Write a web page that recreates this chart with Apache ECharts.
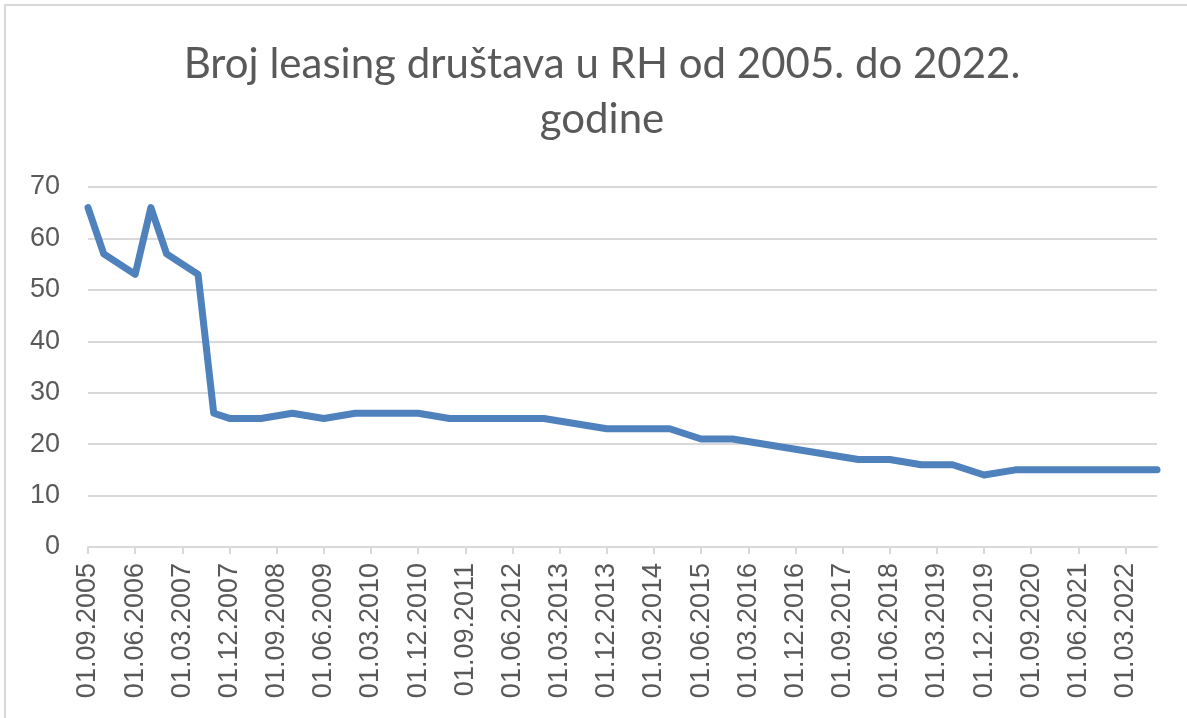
<!DOCTYPE html>
<html>
<head>
<meta charset="utf-8">
<script src="https://cdn.jsdelivr.net/npm/echarts@6/dist/echarts.min.js"></script>
<style>
  html, body { margin: 0; padding: 0; background: #fff; }
  #chart { width: 1187px; height: 718px; }
</style>
</head>
<body>
<div id="chart"></div>
<script>
/* 数据：季度日期 */
var dates = [
  '01.09.2005', '01.12.2005',
  '01.03.2006', '01.06.2006', '01.09.2006', '01.12.2006',
  '01.03.2007', '01.06.2007', '01.09.2007', '01.12.2007',
  '01.03.2008', '01.06.2008', '01.09.2008', '01.12.2008',
  '01.03.2009', '01.06.2009', '01.09.2009', '01.12.2009',
  '01.03.2010', '01.06.2010', '01.09.2010', '01.12.2010',
  '01.03.2011', '01.06.2011', '01.09.2011', '01.12.2011',
  '01.03.2012', '01.06.2012', '01.09.2012', '01.12.2012',
  '01.03.2013', '01.06.2013', '01.09.2013', '01.12.2013',
  '01.03.2014', '01.06.2014', '01.09.2014', '01.12.2014',
  '01.03.2015', '01.06.2015', '01.09.2015', '01.12.2015',
  '01.03.2016', '01.06.2016', '01.09.2016', '01.12.2016',
  '01.03.2017', '01.06.2017', '01.09.2017', '01.12.2017',
  '01.03.2018', '01.06.2018', '01.09.2018', '01.12.2018',
  '01.03.2019', '01.06.2019', '01.09.2019', '01.12.2019',
  '01.03.2020', '01.06.2020', '01.09.2020', '01.12.2020',
  '01.03.2021', '01.06.2021', '01.09.2021', '01.12.2021',
  '01.03.2022', '01.06.2022', '01.09.2022'
];

// broj društava (null = nema očitanja, linija se spaja)
var brojDrustava = [
  66, 57,
  null, 53, 66, 57,
  null, 53, 26, 25,
  25, 25, null, 26,
  null, 25, null, 26,
  26, 26, 26, 26,
  null, 25, 25, 25,
  25, 25, 25, 25,
  null, null, null, 23,
  23, 23, 23, 23,
  null, 21, 21, 21,
  null, null, null, null,
  null, null, null, 17,
  17, 17, null, 16,
  16, 16, null, 14,
  null, 15, 15, 15,
  15, 15, 15, 15,
  15, 15, 15
];

var yTicks = [0, 10, 20, 30, 40, 50, 60, 70];

var titleText = 'Broj leasing društava u RH od 2005. do 2022.\ngodine';

var chart = echarts.init(document.getElementById('chart'));

var option = {
  backgroundColor: '#fff',
  animation: false,
  title: {
    text: titleText,
    left: 597,
    top: 32,
    textAlign: 'center',
    textStyle: {
      fontFamily: 'Lato',
      fontWeight: 'normal',
      fontSize: 42,
      lineHeight: 55,
      color: '#595959'
    }
  },
  graphic: [{
    // okvir grafikona
    type: 'rect',
    silent: true,
    shape: { x: 5, y: 5, width: 1200, height: 730 },
    style: { fill: 'none', stroke: '#d9d9d9', lineWidth: 2 }
  }],
  grid: {
    left: 88,
    right: 30,
    top: 187,
    bottom: 171
  },
  xAxis: {
    type: 'category',
    data: dates,
    boundaryGap: false,
    axisLine: { lineStyle: { color: '#d9d9d9', width: 2 } },
    axisTick: {
      show: true,
      interval: 2,
      length: 7,
      lineStyle: { color: '#d9d9d9', width: 2 }
    },
    axisLabel: {
      interval: 2,
      rotate: 90,
      margin: 16,
      fontFamily: 'Liberation Sans',
      fontSize: 27,
      color: '#595959'
    },
    splitLine: { show: false }
  },
  yAxis: {
    type: 'value',
    min: yTicks[0],
    max: yTicks[yTicks.length - 1],
    interval: 10,
    axisLine: { show: false },
    axisTick: { show: false },
    axisLabel: {
      margin: 28,
      fontFamily: 'Liberation Sans',
      fontSize: 27,
      color: '#595959'
    },
    splitLine: { lineStyle: { color: '#d9d9d9', width: 2 } }
  },
  series: [{
    name: 'Broj leasing društava',
    type: 'line',
    data: brojDrustava,
    connectNulls: true,
    symbol: 'none',
    lineStyle: {
      color: '#4f81bd',
      width: 7,
      cap: 'round',
      join: 'round'
    }
  }]
};
chart.setOption(option);
</script>
</body>
</html>
